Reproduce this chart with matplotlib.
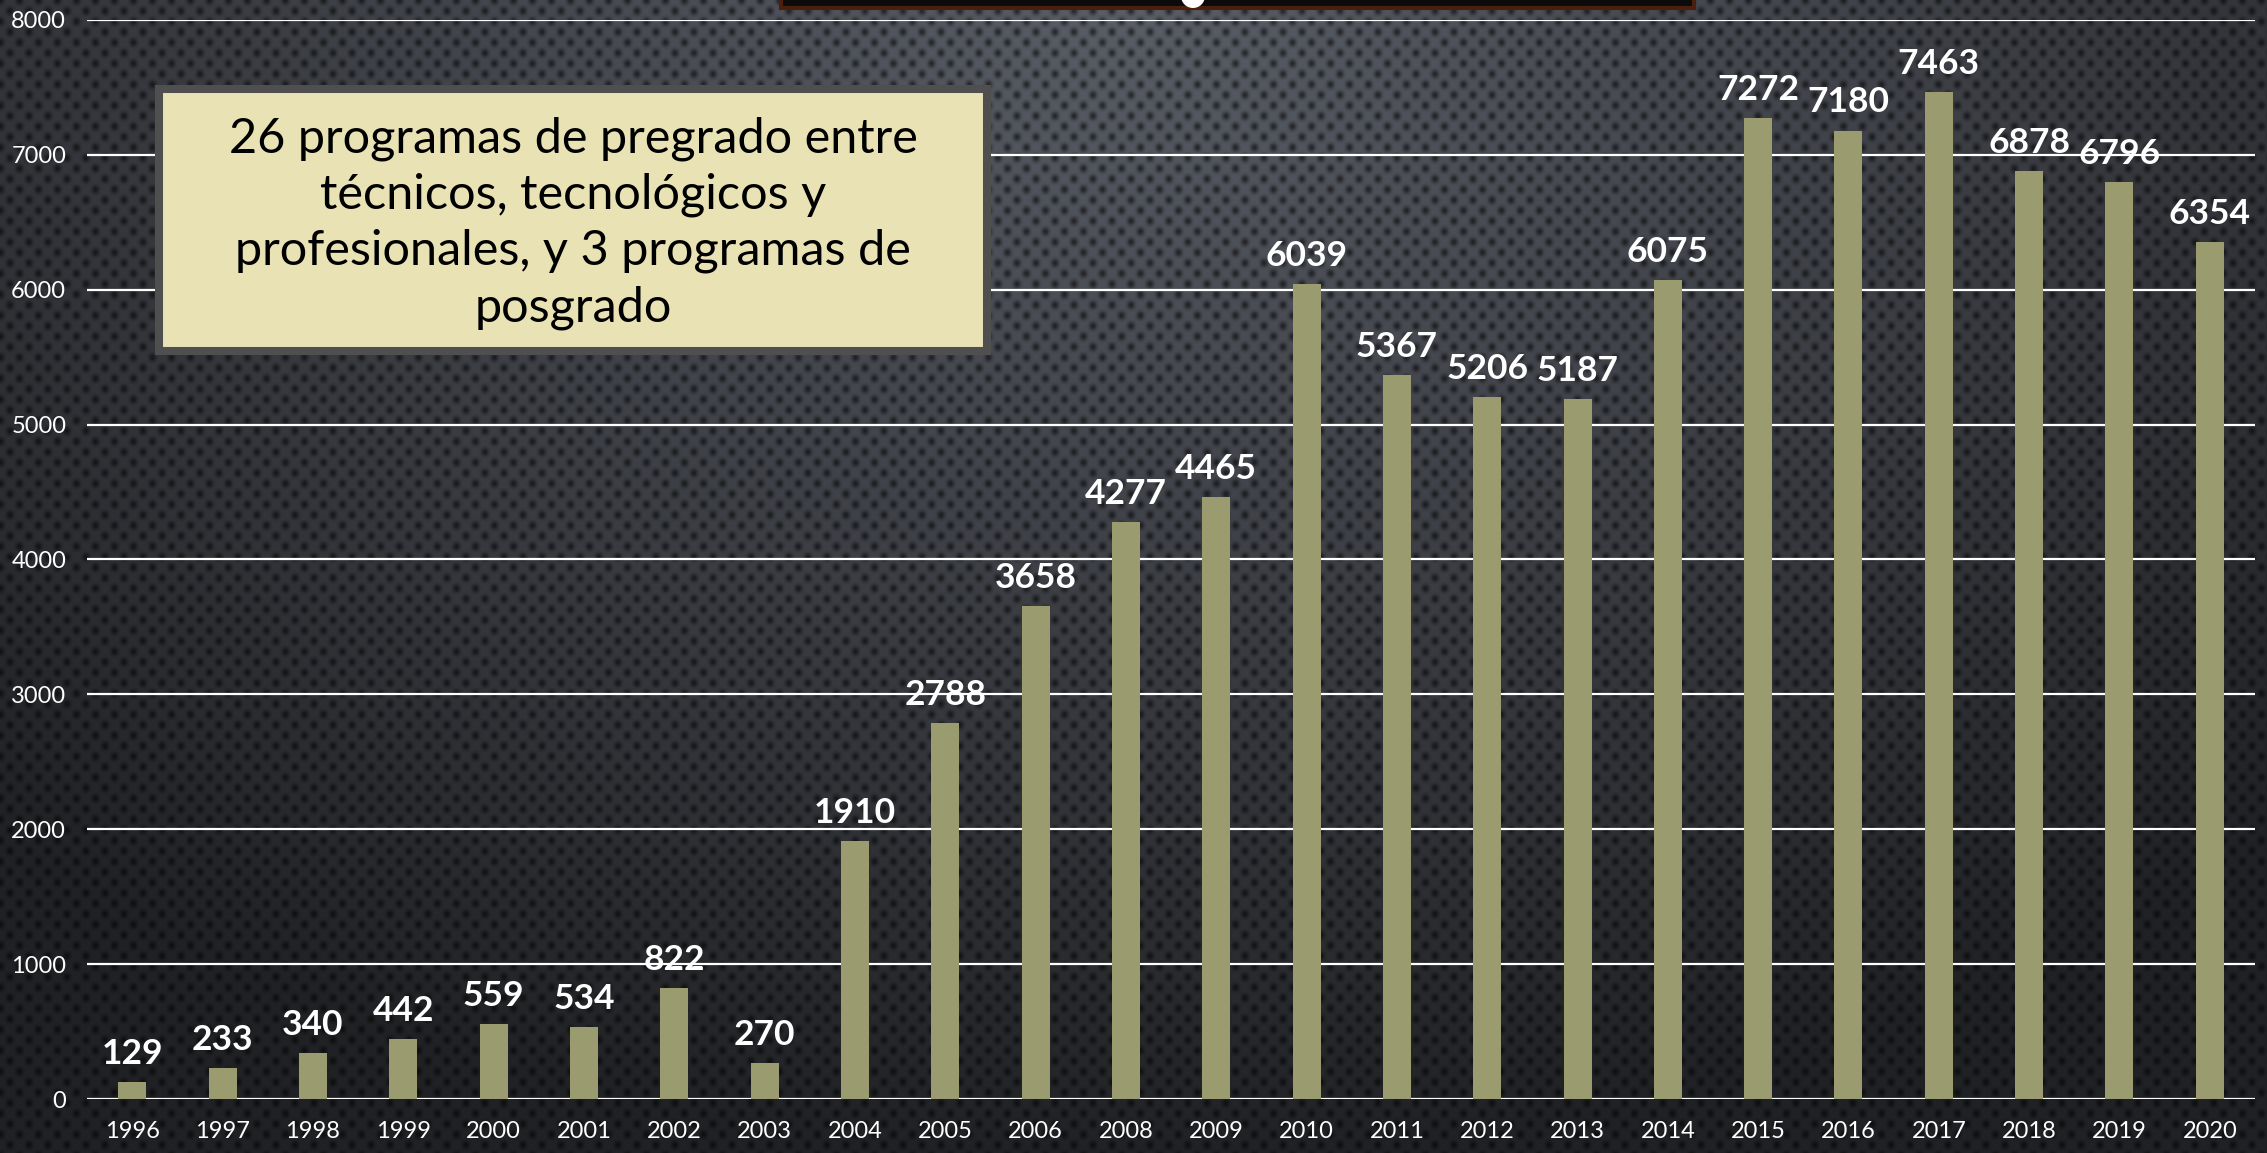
import numpy as np
import matplotlib
matplotlib.use('Agg')
import matplotlib.pyplot as plt
from matplotlib.patches import Rectangle, Ellipse

# datos: matriculados por año
years = ['1996', '1997', '1998', '1999', '2000', '2001', '2002', '2003', '2004', '2005',
         '2006', '2008', '2009', '2010', '2011', '2012', '2013', '2014', '2015', '2016',
         '2017', '2018', '2019', '2020']
students = [129, 233, 340, 442, 559, 534, 822, 270, 1910, 2788,
            3658, 4277, 4465, 6039, 5367, 5206, 5187, 6075, 7272, 7180,
            7463, 6878, 6796, 6354]
y_ticks = [0, 1000, 2000, 3000, 4000, 5000, 6000, 7000, 8000]
box_text = ('26 programas de pregrado entre\ntécnicos, tecnológicos y\n'
            'profesionales, y 3 programas de\nposgrado')

W, H = 2267, 1153
fig = plt.figure(figsize=(W / 100, H / 100), dpi=100)

# fondo oscuro con textura de puntos
X, Y = np.meshgrid(np.arange(W), np.arange(H))
t = np.clip(np.sqrt(((X - W / 2) / (W * 0.72)) ** 2 + (Y / (H * 1.0)) ** 2), 0, 1)
top_col = np.array([0x5a, 0x5e, 0x67]) / 255
bot_col = np.array([0x21, 0x22, 0x25]) / 255
base = top_col[None, None, :] * (1 - t[..., None]) + bot_col[None, None, :] * t[..., None]

def blob(x0, y0):
    a = np.cos(2 * np.pi * (X - x0) / 19)
    b = np.cos(2 * np.pi * (Y - y0) / 21)
    return ((1 + a) / 2 * (1 + b) / 2) ** 2.5

dots = blob(0, 0) + blob(9.5, 10.5)
img = base * (1 - 0.55 * dots[..., None])

bg = fig.add_axes([0, 0, 1, 1], zorder=-10)
bg.imshow(img, aspect='auto', interpolation='nearest')
bg.axis('off')

ax = fig.add_axes([0.0384, 0.0468, 0.9563, 0.9359])
ax.set_facecolor('none')
x = np.arange(len(years))
ax.bar(x, students, width=0.31, color='#9b9b70', zorder=2)

for xi, v in zip(x, students):
    ax.annotate(str(v), (xi, v), xytext=(0, 13), textcoords='offset points',
                ha='center', va='baseline', color='white', fontsize=25.5,
                fontweight='bold', family='Lato', zorder=4)

ax.set_xlim(-0.5, len(years) - 0.5)
ax.set_ylim(0, 8000)
ax.set_yticks(y_ticks)
ax.set_xticks(x)
ax.set_xticklabels(years)
ax.yaxis.grid(True, color='white', linewidth=1.6, zorder=1)
ax.set_axisbelow(True)
for s in ax.spines.values():
    s.set_visible(False)
ax.tick_params(axis='both', length=0, colors='white', labelsize=17)
ax.tick_params(axis='y', pad=15)
ax.tick_params(axis='x', pad=16)
for lab in ax.get_xticklabels() + ax.get_yticklabels():
    lab.set_family('Lato')

# cuadro de texto
ax.add_patch(Rectangle((159 / W, 1 - 351 / H), 828 / W, 262 / H, transform=fig.transFigure,
                       facecolor='#e8e2b4', edgecolor='#4f4f4f', linewidth=5.8,
                       zorder=5, clip_on=False))
ax.text(573 / W, 1 - 223 / H, box_text, transform=fig.transFigure, ha='center', va='center',
        fontsize=35, family='Lato', color='black', linespacing=1.33, zorder=6)

# resto del título cortado arriba
ax.add_patch(Rectangle((781 / W, 1 - 8 / H), 913 / W, 30 / H, transform=fig.transFigure,
                       facecolor='#0b0b0b', edgecolor='#4a200c', linewidth=3,
                       zorder=5, clip_on=False))
ax.add_patch(Ellipse((1193 / W, 1 + 4 / H), 24 / W, 24 / H, transform=fig.transFigure,
                     facecolor='white', edgecolor='none', zorder=6, clip_on=False))

fig.savefig('out.png', dpi=100)
